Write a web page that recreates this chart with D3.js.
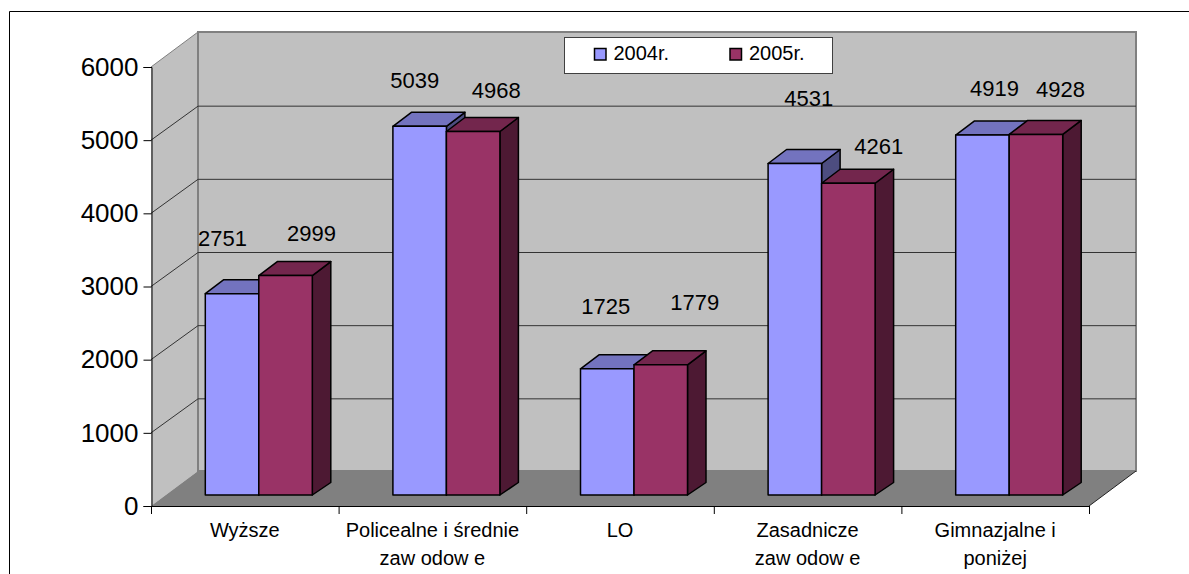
<!DOCTYPE html>
<html>
<head>
<meta charset="utf-8">
<script src="https://cdn.jsdelivr.net/npm/d3@7"></script>
<style>
  html, body { margin: 0; padding: 0; background: #fff; overflow: hidden; }
  text { font-family: "Liberation Sans", Arial, sans-serif; fill: #000; }
</style>
</head>
<body>
<div id="svg-container"></div>
<script>
var categories = [
  ["Wyższe"],
  ["Policealne i średnie", "zaw odow e"],
  ["LO"],
  ["Zasadnicze", "zaw odow e"],
  ["Gimnazjalne i", "poniżej"]
];
var seriesNames = ["2004r.", "2005r."];
var values2004 = [2751, 5039, 1725, 4531, 4919];
var values2005 = [2999, 4968, 1779, 4261, 4928];
var yTicks = [0, 1000, 2000, 3000, 4000, 5000, 6000];

var fronts = ["#9999ff", "#993366"];
var tops = ["#7373bf", "#73264d"];
var sides = ["#4d4d80", "#4d1933"];

//hand placed data labels, offset from the top of each bar
var nudge2004 = [[-10.5, -47.5], [-6, -38], [-2.5, -55], [13, -57.5], [11, -39]];
var nudge2005 = [[25, -35], [22, -33.5], [33, -55], [29.5, -29], [23.5, -37]];

var svg = d3
  .select("#svg-container")
  .append("svg")
  .attr("width", 1189)
  .attr("height", 574);

//outer frame, only top and left show in the picture
svg.append("polyline")
  .attr("points", "9.5,574 9.5,11.5 1189,11.5")
  .attr("fill", "none")
  .attr("stroke", "#000");

var x = d3.scaleBand().domain(d3.range(5)).range([151, 1089]);
var y = d3.scaleLinear().domain([0, 6000]).range([506, 67]);

//offset from the front plane to the back wall, and to the front of the bars
var depth = [47, -35];
var gridDepth = -34;
var barShift = [14, -11];
var barWidth = 53.5;
var barSide = [18.5, -14];

function pts(a) {
  return a.map((p) => p.join(",")).join(" ");
}

//walls
var y0 = y(0), y6 = y(6000), xl = x.range()[0], xr = x.range()[1];
svg.append("polygon")
  .attr("points", pts([[xl, y0], [xl, y6], [xl + depth[0], y6 + depth[1]], [xl + depth[0], y0 + depth[1]]]))
  .attr("fill", "#c0c0c0");
svg.append("rect")
  .attr("x", xl + depth[0]).attr("y", y6 + depth[1])
  .attr("width", xr - xl).attr("height", y0 - y6)
  .attr("fill", "#c0c0c0").attr("stroke", "#808080").attr("stroke-width", 2);
svg.append("polygon")
  .attr("points", pts([[xl, y0], [xr, y0], [xr + depth[0], y0 + depth[1]], [xl + depth[0], y0 + depth[1]]]))
  .attr("fill", "#808080");
svg.append("line")
  .attr("x1", xr).attr("y1", y0)
  .attr("x2", xr + depth[0]).attr("y2", y0 + depth[1])
  .attr("stroke", "#222");

//gridlines across side and back wall
svg.append("g")
  .selectAll("polyline")
  .data(yTicks.slice(1, -1))
  .enter()
  .append("polyline")
  .attr("fill", "none")
  .attr("stroke", "#333")
  .attr("points", (d) => pts([[xl, y(d)], [xl + depth[0], y(d) + gridDepth], [xr + depth[0], y(d) + gridDepth]]));
svg.append("line")
  .attr("x1", xl).attr("y1", y6)
  .attr("x2", xl + depth[0]).attr("y2", y6 + depth[1])
  .attr("stroke", "#808080");

//bars
var barsG = svg.append("g").attr("stroke", "#000").attr("stroke-width", 1.5).attr("stroke-linejoin", "round");
[values2004, values2005].forEach(function (vals, s) {
  vals.forEach(function (v, i) {
    var bx = x(i) + x.bandwidth() / 2 + barShift[0] + (s - 1) * barWidth;
    var by = y(v) + barShift[1];
    var base = y(0) + barShift[1];
    var g = barsG.append("g");
    g.append("polygon")
      .attr("points", pts([[bx + barWidth, by], [bx + barWidth + barSide[0], by + barSide[1]], [bx + barWidth + barSide[0], base - 12.5], [bx + barWidth, base]]))
      .attr("fill", sides[s]);
    g.append("polygon")
      .attr("points", pts([[bx, by], [bx + barSide[0], by + barSide[1]], [bx + barWidth + barSide[0], by + barSide[1]], [bx + barWidth, by]]))
      .attr("fill", tops[s]);
    g.append("rect")
      .attr("x", bx).attr("y", by)
      .attr("width", barWidth).attr("height", base - by)
      .attr("fill", fronts[s]);
  });
});

//data labels
[[values2004, nudge2004], [values2005, nudge2005]].forEach(function (pair, s) {
  pair[0].forEach(function (v, i) {
    var bx = x(i) + x.bandwidth() / 2 + 15 + (s - 0.5) * barWidth;
    svg.append("text")
      .attr("x", bx + pair[1][i][0])
      .attr("y", y(v) + barShift[1] + pair[1][i][1])
      .attr("text-anchor", "middle")
      .attr("font-size", 22)
      .text(v);
  });
});

//axes
var yAxis = d3.axisLeft(y).tickValues(yTicks).tickSize(8).tickPadding(5).tickFormat((d) => d);
var yG = svg.append("g").attr("transform", "translate(" + (xl + 0.5) + ",0)").call(yAxis);
yG.selectAll("text").attr("font-size", 26).attr("font-family", null);
yG.selectAll("line,path").attr("stroke", "#000");

var bottom = svg.append("g");
bottom.append("line")
  .attr("x1", xl).attr("x2", xr).attr("y1", y0 + 0.5).attr("y2", y0 + 0.5)
  .attr("stroke", "#000");
bottom.selectAll("line.t")
  .data(d3.range(6))
  .enter()
  .append("line")
  .attr("class", "t")
  .attr("x1", (d) => xl + (d * (xr - xl)) / 5 + 0.5)
  .attr("x2", (d) => xl + (d * (xr - xl)) / 5 + 0.5)
  .attr("y1", y0).attr("y2", y0 + 8)
  .attr("stroke", "#000");
categories.forEach(function (lines, i) {
  lines.forEach(function (t, k) {
    bottom.append("text")
      .attr("x", x(i) + x.bandwidth() / 2)
      .attr("y", 537 + k * 28)
      .attr("text-anchor", "middle")
      .attr("font-size", 20)
      .text(t);
  });
});

//legend
var legend = svg.append("g");
legend.append("rect")
  .attr("x", 564.5).attr("y", 37.5)
  .attr("width", 268).attr("height", 36)
  .attr("fill", "#fff").attr("stroke", "#404040");
seriesNames.forEach(function (name, s) {
  var lx = 594.5 + s * 135.5;
  legend.append("rect")
    .attr("x", lx).attr("y", 48.5)
    .attr("width", 11.5).attr("height", 11.5)
    .attr("fill", fronts[s]).attr("stroke", "#000").attr("stroke-width", 1.5);
  legend.append("text")
    .attr("x", lx + 19).attr("y", 60)
    .attr("font-size", 20)
    .text(name);
});
</script>
</body>
</html>
